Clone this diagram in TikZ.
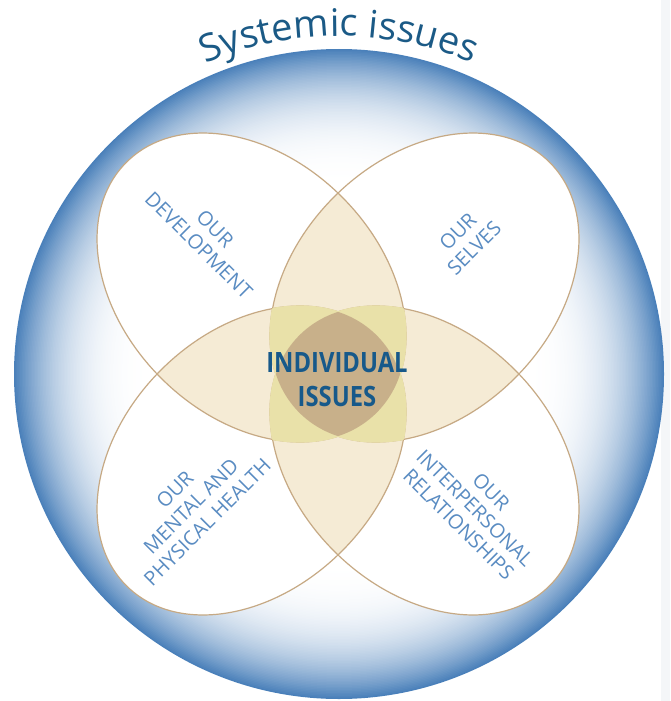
\documentclass[tikz,border=0pt]{standalone}
\usepackage{fontspec}
\usepackage{graphicx}
\setmainfont{Open Sans}
\usetikzlibrary{decorations.text}
\definecolor{rimblue}{HTML}{4A80BA}
\definecolor{petline}{HTML}{C6A984}
\definecolor{beige}{HTML}{F5EBD5}
\definecolor{yel}{HTML}{E9E1A9}
\definecolor{darktan}{HTML}{C8B08A}
\definecolor{lblblue}{HTML}{5A8CC2}
\definecolor{titleblue}{HTML}{1B5A86}
\definecolor{indblue}{HTML}{17598A}
\definecolor{stripe}{HTML}{F4F6F8}
\newcommand\tri[3]{\begin{scope}\path[clip,pet#1];\path[clip,pet#2];\path[fill=yel,draw=yel,line width=1.4pt,pet#3];\end{scope}}
\newcommand\duo[2]{\begin{scope}\path[clip,pet#1];\path[fill=beige,pet#2];\end{scope}}
\begin{document}
\begin{tikzpicture}[x=1pt,y=-1pt,
  petTL/.style={rotate around={-45:(251.5,287.5)}, insert path={(251.5,287.5) ellipse [x radius=177pt, y radius=128pt]}},
  petTR/.style={rotate around={45:(424.5,287.5)}, insert path={(424.5,287.5) ellipse [x radius=177pt, y radius=128pt]}},
  petBL/.style={rotate around={45:(251.5,460.5)}, insert path={(251.5,460.5) ellipse [x radius=177pt, y radius=128pt]}},
  petBR/.style={rotate around={-45:(424.5,460.5)}, insert path={(424.5,460.5) ellipse [x radius=177pt, y radius=128pt]}},
  outline/.style={draw=petline, line width=1.2pt},
  lbl/.style={text=lblblue, font=\fontsize{20}{23}\selectfont, align=center, inner sep=0pt},
  ind/.style={text=indblue, font=\bfseries\fontsize{28}{34}\selectfont, anchor=base, inner sep=0pt}
]
\useasboundingbox (0,0) rectangle (670,701);
\fill[stripe] (661,0) rectangle (670,701);
% outer disc with radial gradient (white centre, blue rim)
\coordinate (O) at (339,374);
\foreach \r in {325,323.5,...,178} {
  \pgfmathsetmacro\p{100*((\r/325-0.55)/0.45)^3}
  \fill[rimblue!\p!white] (O) circle [radius=\r pt];
}
\fill[white] (O) circle [radius=178pt];
\path[decorate, decoration={text along path, text align=center,
  text={|\fontsize{38}{38}\selectfont\color{titleblue}|Systemic issues}}]
  (170,81.3) arc[start angle=120, end angle=60, radius=338pt];
% petals white
\path[fill=white,petTL];
\path[fill=white,petTR];
\path[fill=white,petBL];
\path[fill=white,petBR];
% pairwise overlaps
\duo{TL}{TR}\duo{TL}{BL}\duo{TL}{BR}\duo{TR}{BL}\duo{TR}{BR}\duo{BL}{BR}
% outlines
\path[outline,petTL];
\path[outline,petTR];
\path[outline,petBL];
\path[outline,petBR];
% triple overlaps
\tri{TL}{TR}{BL}\tri{TL}{BL}{TR}\tri{TR}{BL}{TL}
\tri{TL}{TR}{BR}\tri{TL}{BR}{TR}\tri{TR}{BR}{TL}
\tri{TL}{BL}{BR}\tri{TL}{BR}{BL}\tri{BL}{BR}{TL}
\tri{TR}{BL}{BR}\tri{TR}{BR}{BL}\tri{BL}{BR}{TR}
% quadruple overlap
\begin{scope}\path[clip,petTL];\path[clip,petTR];\path[clip,petBL];\path[fill=darktan,petBR];\end{scope}
% labels
\node[lbl, rotate=-45] (ldev) at (207,237) {OUR\\DEVELOPMENT};
\node[lbl, rotate=45] (lsel) at (466,240) {OUR\\SELVES};
\node[lbl, rotate=45] (lhea) at (191,506) {OUR\\MENTAL AND\\PHYSICAL HEALTH};
\node[lbl, rotate=-45] (lrel) at (475,508) {OUR\\INTERPERSONAL\\RELATIONSHIPS};
\node[ind] (ind1) at (337,372) {\scalebox{0.85}[1]{INDIVIDUAL}};
\node[ind] (ind2) at (337,406) {\scalebox{0.85}[1]{ISSUES}};
\end{tikzpicture}
\end{document}
